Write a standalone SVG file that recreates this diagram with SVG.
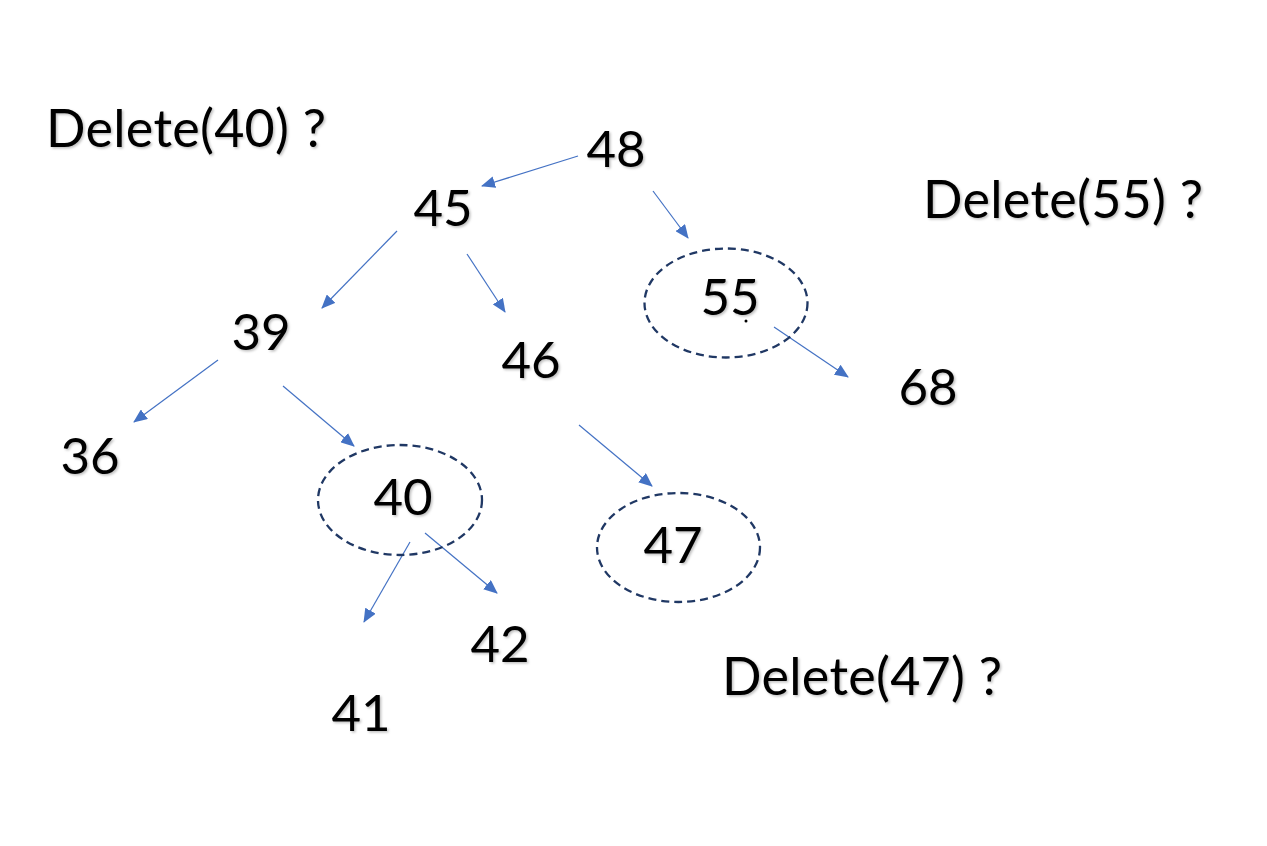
<svg xmlns="http://www.w3.org/2000/svg" width="1267" height="846" viewBox="0 0 1267 846">
  <style>
    .lbl { font-family: Lato, "Open Sans", "Liberation Sans", sans-serif; font-size: 51px; fill: #000; filter: url(#shadow); }
    .q { font-size: 52px; letter-spacing: 0.3px; }
    .num { text-anchor: middle; }
    .edge { stroke: #4472C4; stroke-width: 1.2; fill: none; marker-end: url(#arrow); }
    .ring { fill: none; stroke: #203864; stroke-width: 2.3; stroke-dasharray: 8 5; }
  </style>
  <defs>
    <marker id="arrow" markerUnits="userSpaceOnUse" markerWidth="14" markerHeight="12" viewBox="0 0 14 12" refX="13" refY="6" orient="auto">
      <path d="M0,0 L14,6 L0,12 Z" fill="#4472C4"/>
    </marker>
    <filter id="shadow" x="-10%" y="-10%" width="120%" height="130%">
      <feDropShadow dx="1.5" dy="1.5" stdDeviation="1" flood-color="#000" flood-opacity="0.25"/>
    </filter>
  </defs>
  <rect width="1267" height="846" fill="#fff"/>

  <!-- questions -->
  <g id="q40"><text class="lbl q" x="46" y="147">Delete(40) ?</text></g>
  <g id="q55"><text class="lbl q" x="923" y="218">Delete(55) ?</text></g>
  <g id="q47"><text class="lbl q" x="722" y="695">Delete(47) ?</text></g>

  <!-- edges -->
  <g id="connectors">
    <line class="edge" x1="578" y1="156" x2="482" y2="186"/>
    <line class="edge" x1="653" y1="191" x2="688" y2="238"/>
    <line class="edge" x1="397" y1="231" x2="322" y2="308"/>
    <line class="edge" x1="467" y1="254" x2="505" y2="312"/>
    <line class="edge" x1="218" y1="360" x2="134" y2="422"/>
    <line class="edge" x1="283" y1="386" x2="354" y2="446"/>
    <line class="edge" x1="579" y1="425" x2="652" y2="486"/>
    <line class="edge" x1="774" y1="327" x2="848" y2="377"/>
    <line class="edge" x1="410" y1="542" x2="364" y2="622"/>
    <line class="edge" x1="425" y1="533" x2="497" y2="593"/>
  </g>

  <!-- nodes -->
  <g id="n48"><text class="lbl num" x="616" y="167">48</text></g>
  <g id="n45"><text class="lbl num" x="443" y="226">45</text></g>
  <g id="n55">
    <ellipse class="ring" cx="726" cy="303" rx="81.5" ry="54.5"/>
    <text class="lbl num" x="730" y="315">55</text>
    <circle cx="746" cy="321" r="1.5" fill="#000"/>
  </g>
  <g id="n39"><text class="lbl num" x="261" y="350">39</text></g>
  <g id="n46"><text class="lbl num" x="531" y="378">46</text></g>
  <g id="n68"><text class="lbl num" x="928" y="405">68</text></g>
  <g id="n36"><text class="lbl num" x="90" y="474">36</text></g>
  <g id="n40">
    <ellipse class="ring" cx="400" cy="500" rx="82" ry="55"/>
    <text class="lbl num" x="403" y="515">40</text>
  </g>
  <g id="n47">
    <ellipse class="ring" cx="678.5" cy="547.5" rx="81.5" ry="54.5"/>
    <text class="lbl num" x="673" y="563">47</text>
  </g>
  <g id="n42"><text class="lbl num" x="500" y="662">42</text></g>
  <g id="n41"><text class="lbl num" x="361" y="731">41</text></g>
</svg>
